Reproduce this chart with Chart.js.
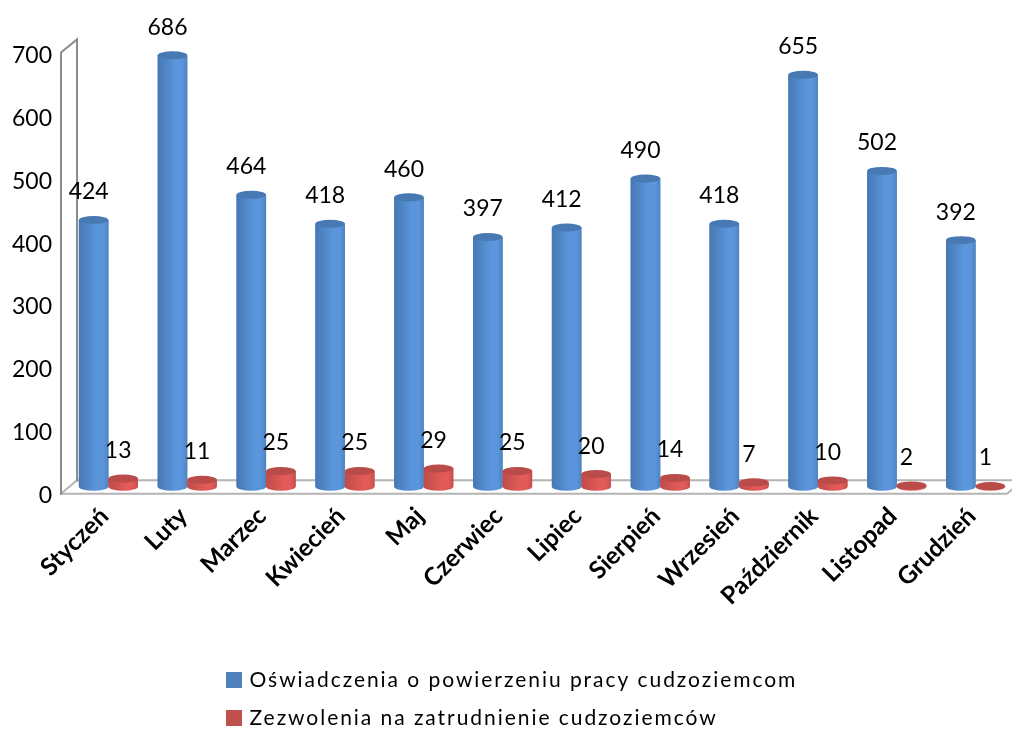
<!DOCTYPE html>
<html lang="pl">
<head>
<meta charset="utf-8">
<title>Oświadczenia i zezwolenia</title>
<style>html,body{margin:0;padding:0;background:#fff;overflow:hidden;width:1012px;height:729px}canvas{display:block}</style>
<script src="https://cdn.jsdelivr.net/npm/chart.js@4"></script>
</head>
<body>
<canvas id="c" width="1020" height="729" style="width:1020px;height:729px"></canvas>
<script>
const months = ["Styczeń","Luty","Marzec","Kwiecień","Maj","Czerwiec","Lipiec","Sierpień","Wrzesień","Październik","Listopad","Grudzień"];
const oswiadczenia = [424,686,464,418,460,397,412,490,418,655,502,392];
const zezwolenia = [13,11,25,25,29,25,20,14,7,10,2,1];
const seriesNames = ["Oświadczenia o powierzeniu pracy cudzoziemcom","Zezwolenia na zatrudnienie cudzoziemców"];
const FONT = "Lato, Carlito, sans-serif";
const shades = [
  {edge:"#4678b4",mid:"#5b96dc",rim:"#4f83c2",top:"#4879b3"},
  {edge:"#bf4b49",mid:"#e25b59",rim:"#c44f4d",top:"#b94b49"}
];
const cylinders = {
  id:"cylinders",
  beforeDatasetsDraw(chart){
    const {ctx,scales:{y}} = chart;
    const y0 = y.getPixelForValue(0), yT = y.getPixelForValue(700);
    ctx.save();
    ctx.lineCap = "square";
    ctx.lineWidth = 2;
    ctx.strokeStyle = "#b4b4b4";
    ctx.beginPath();
    ctx.moveTo(77,y0-6.5);ctx.lineTo(1012,y0-6.5);
    ctx.moveTo(61,y0+7);ctx.lineTo(77,y0-6.5);
    ctx.moveTo(61,y0+7);ctx.lineTo(1007,y0+7);
    ctx.lineTo(1013,y0+2);
    ctx.stroke();
    ctx.strokeStyle = "#8c8c8c";
    ctx.beginPath();
    ctx.moveTo(61,y0+7);ctx.lineTo(61,yT+6);ctx.lineTo(77,yT-7);ctx.lineTo(77,y0-6.5);
    ctx.stroke();
    ctx.restore();
  },
  afterDatasetsDraw(chart){
    const ctx = chart.ctx, ry = 4;
    const metas = chart.data.datasets.map((d,i)=>chart.getDatasetMeta(i));
    chart.data.labels.forEach((_,i)=>{
      metas.forEach((m,k)=>{
        const b = m.data[i], s = shades[k];
        const rx = b.width/2, l = b.x-rx, r = b.x+rx;
        const g = ctx.createLinearGradient(l,0,r,0);
        g.addColorStop(0,s.edge);g.addColorStop(.62,s.mid);g.addColorStop(.82,s.mid);g.addColorStop(1,s.rim);
        ctx.fillStyle = g;
        ctx.beginPath();
        ctx.moveTo(l,b.y);ctx.lineTo(l,b.base);
        ctx.ellipse(b.x,b.base,rx,ry,0,Math.PI,0,true);
        ctx.lineTo(r,b.y);ctx.closePath();ctx.fill();
        ctx.fillStyle = s.top;
        ctx.beginPath();ctx.ellipse(b.x,b.y,rx,ry,0,0,Math.PI*2);ctx.fill();
      });
    });
    ctx.save();
    ctx.font = "23px "+FONT;ctx.fillStyle="#000";ctx.textAlign="center";ctx.textBaseline="middle";
    metas.forEach((m,k)=>{
      m.data.forEach((b,i)=>{
        ctx.fillText(String(chart.data.datasets[k].data[i]),b.x-5,b.y-28);
      });
    });
    ctx.restore();
  },
  afterLayout(chart){
    const lg = chart.legend;
    lg.left = 212;
    lg.top = 652.5;
    if(!lg._spaced){
      const base = lg.draw;
      lg.draw = function(){
        chart.ctx.letterSpacing = "1.95px";
        base.call(this);
        chart.ctx.letterSpacing = "0px";
      };
      lg._spaced = true;
    }
  }
};
new Chart(document.getElementById("c"),{
  type:"bar",
  data:{labels:months,datasets:[
    {label:seriesNames[0],data:oswiadczenia,backgroundColor:"#4f81bd",borderWidth:0},
    {label:seriesNames[1],data:zezwolenia,backgroundColor:"#c0504d",borderWidth:0}
  ]},
  plugins:[cylinders],
  options:{
    responsive:false,animation:false,devicePixelRatio:1,
    categoryPercentage:.75,barPercentage:1,
    layout:{padding:{top:46.4,right:5,left:0,bottom:0}},
    plugins:{
      tooltip:{enabled:false},
      legend:{position:"bottom",align:"start",labels:{
        boxWidth:10,boxHeight:10,padding:17,color:"#000",font:{family:FONT,size:21},
        generateLabels(c){
          return Chart.defaults.plugins.legend.labels.generateLabels(c).map(l=>({...l,lineWidth:6,strokeStyle:l.fillStyle}));
        }
      }}
    },
    scales:{
      x:{
        grid:{display:false,drawTicks:false},border:{display:false},
        afterFit(s){s.height = 729-486.7-s.chart.legend.height;},
        ticks:{autoSkip:false,minRotation:45,maxRotation:45,padding:15,labelOffset:-4,color:"#000",font:{family:FONT,size:24.5,weight:"bold"}}
      },
      y:{
        min:0,max:700,
        afterFit(s){s.width = 69;},
        grid:{display:false,drawTicks:false},border:{display:false},
        ticks:{stepSize:100,padding:17,labelOffset:9,color:"#000",font:{family:FONT,size:23}}
      }
    }
  }
});
</script>
</body>
</html>
